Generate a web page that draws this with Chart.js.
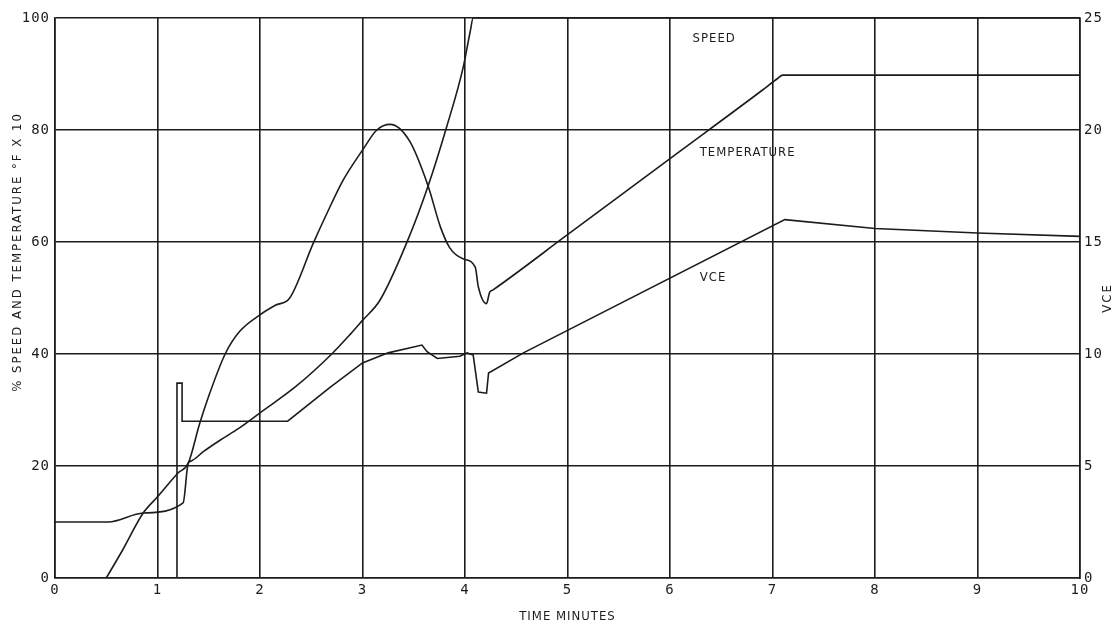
<!DOCTYPE html>
<html>
<head>
<meta charset="utf-8">
<title>Speed, temperature and VCE</title>
<script src="https://cdn.jsdelivr.net/npm/chart.js@4.4.1/dist/chart.umd.min.js"></script>
<style>
  body { margin: 0; background: #fff; }
  #wrap { width: 1115px; height: 624px; }
</style>
</head>
<body>
<div id="wrap"><canvas id="grafico"></canvas></div>
<script>
// values (time in minutes)
const speedTime = [0, 0.52, 0.86, 1.25, 1.3, 1.33, 1.45, 1.61, 1.8, 2.0, 2.35, 2.7, 2.88, 3.0, 3.17, 3.43, 3.64, 3.82, 3.98, 4.05, 4.08, 10];
const speedPct = [10, 10, 11.6, 13.4, 20.5, 20.9, 22.6, 24.6, 26.8, 29.5, 34.2, 40, 43.5, 46, 49.6, 59.8, 70, 80.5, 91, 97.5, 100, 100];

const tempTime = [0.5, 0.66, 0.86, 1.0, 1.2, 1.3, 1.41, 1.5, 1.66, 1.8, 2.0, 2.15, 2.29, 2.52, 2.65, 2.81, 3.0, 3.14, 3.27, 3.46, 3.64, 3.76, 3.85, 3.98, 4.1, 4.13, 4.21, 4.24, 4.27, 5.0, 6.0, 6.9, 7.05, 7.1, 10];
const tempValue = [0, 5, 11.6, 14.5, 18.75, 20.5, 27.5, 32.5, 40, 44, 47, 48.7, 50, 59.8, 65, 71, 76.4, 80, 81, 78, 70, 62.7, 59, 57, 55.5, 52, 49, 51, 51.4, 61.3, 74.9, 87.1, 89.2, 89.8, 89.8];

const vceTime = [0, 1.19, 1.19, 1.24, 1.24, 2.27, 2.68, 3.0, 3.25, 3.58, 3.63, 3.73, 3.95, 4.02, 4.08, 4.13, 4.21, 4.23, 4.57, 7.12, 8.0, 9.0, 10];
const vceValue = [0, 0, 8.7, 8.7, 7.0, 7.0, 8.5, 9.6, 10.05, 10.4, 10.1, 9.8, 9.9, 10.05, 9.95, 8.3, 8.25, 9.15, 10.05, 16.0, 15.6, 15.4, 15.25];

// curve names written on the plot, at data coordinates
const curveLabels = [
  { text: 'SPEED', x: 6.22, y: 96.4 },
  { text: 'TEMPERATURE', x: 6.29, y: 75.9 },
  { text: 'VCE', x: 6.29, y: 53.6 }
];

const leftTitle = '% SPEED AND TEMPERATURE °F X 10';
const rightTitle = 'VCE';
const bottomTitle = 'TIME MINUTES';

const ink = '#1c1c1c';
const tickFont = { family: "'DejaVu Sans Mono', monospace", size: 14 };
const labelFont = "13px 'Liberation Sans Narrow', 'DejaVu Sans Condensed', 'DejaVu Sans', sans-serif";

function toPoints(xs, ys) {
  return xs.map((x, i) => ({ x: x, y: ys[i] }));
}

const textPlugin = {
  id: 'textPlugin',
  beforeDraw(chart) {
    chart.ctx.letterSpacing = '1px';
  },
  afterDatasetsDraw(chart) {
    const ctx = chart.ctx;
    const xs = chart.scales.x;
    const ys = chart.scales.y;
    ctx.save();
    ctx.fillStyle = ink;
    ctx.font = labelFont;
    ctx.letterSpacing = '1px';
    ctx.textBaseline = 'middle';
    ctx.textAlign = 'left';
    for (const lab of curveLabels) {
      ctx.fillText(lab.text, xs.getPixelForValue(lab.x), ys.getPixelForValue(lab.y));
    }
    ctx.restore();
  },
  afterDraw(chart) {
    const ctx = chart.ctx;
    ctx.save();
    ctx.fillStyle = ink;
    ctx.font = labelFont;
    ctx.letterSpacing = '2px';
    ctx.textAlign = 'center';
    ctx.textBaseline = 'middle';

    ctx.save();
    ctx.translate(18, 252);
    ctx.rotate(-Math.PI / 2);
    ctx.fillText(leftTitle, 0, 0);
    ctx.restore();

    ctx.save();
    ctx.translate(1108, 298);
    ctx.rotate(-Math.PI / 2);
    ctx.fillText(rightTitle, 0, 0);
    ctx.restore();

    ctx.restore();
  }
};

const lineStyle = {
  borderColor: ink,
  borderWidth: 1.6,
  pointRadius: 0,
  fill: false
};

new Chart(document.getElementById('grafico'), {
  type: 'line',
  data: {
    datasets: [
      Object.assign({ label: 'Speed', data: toPoints(speedTime, speedPct), yAxisID: 'y', cubicInterpolationMode: 'monotone' }, lineStyle),
      Object.assign({ label: 'Temperature', data: toPoints(tempTime, tempValue), yAxisID: 'y', cubicInterpolationMode: 'monotone' }, lineStyle),
      Object.assign({ label: 'VCE', data: toPoints(vceTime, vceValue), yAxisID: 'y2', tension: 0 }, lineStyle)
    ]
  },
  options: {
    responsive: true,
    maintainAspectRatio: false,
    animation: false,
    layout: { padding: { top: 18, left: 0, right: 0, bottom: 0 } },
    plugins: {
      legend: { display: false },
      tooltip: { enabled: false }
    },
    scales: {
      x: {
        type: 'linear',
        min: 0,
        max: 10,
        ticks: { stepSize: 1, color: ink, font: tickFont, padding: 4 },
        grid: { color: ink, lineWidth: 1.6, drawTicks: false },
        border: { color: ink, width: 1.6 },
        title: {
          display: true,
          text: bottomTitle,
          color: ink,
          font: { family: "'Liberation Sans Narrow', 'DejaVu Sans Condensed', 'DejaVu Sans', sans-serif", size: 13 },
          padding: { top: 4, bottom: 0 }
        },
        afterFit(scale) { scale.height = 46; }
      },
      y: {
        position: 'left',
        min: 0,
        max: 100,
        ticks: { stepSize: 20, color: ink, font: tickFont, padding: 5 },
        grid: { color: ink, lineWidth: 1.6, drawTicks: false },
        border: { color: ink, width: 1.6 },
        afterFit(scale) { scale.width = 55; }
      },
      y2: {
        position: 'right',
        min: 0,
        max: 25,
        ticks: { stepSize: 5, color: ink, font: tickFont, padding: 4 },
        grid: { display: false, drawTicks: false },
        border: { color: ink, width: 1.6 },
        afterFit(scale) { scale.width = 35; }
      }
    }
  },
  plugins: [textPlugin]
});
</script>
</body>
</html>
